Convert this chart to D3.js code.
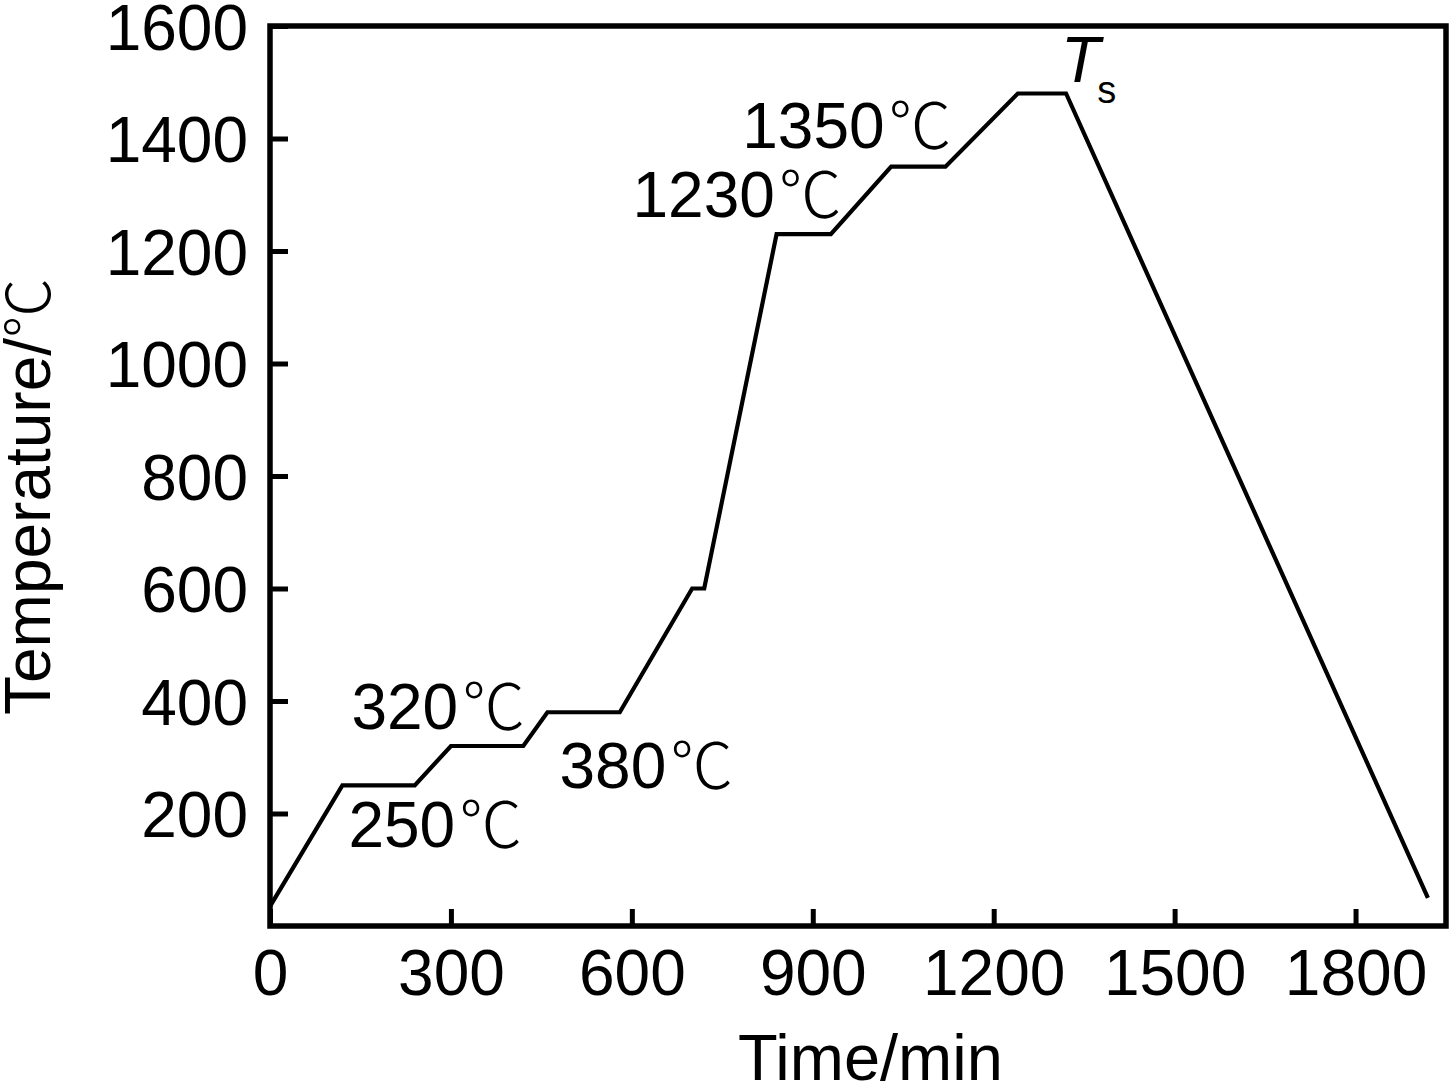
<!DOCTYPE html>
<html><head><meta charset="utf-8">
<script src="https://cdn.jsdelivr.net/npm/d3@7"></script>
<style>
html,body{margin:0;padding:0;background:#fff;}
svg{display:block;}
text{font-family:"Liberation Sans",Arial,sans-serif;fill:#000;}
.deg{font-family:"Noto Sans CJK SC","DejaVu Sans",sans-serif;font-weight:300;}
</style>
</head><body>
<script>
// Data
const timeMin = [0, 120, 240, 300, 420, 460, 580, 700, 720, 840, 930, 1030, 1120, 1240, 1320, 1920];
const tempC   = [35, 250, 250, 320, 320, 380, 380, 600, 600, 1230, 1230, 1350, 1350, 1480, 1480, 50];
const xTicks = [0, 300, 600, 900, 1200, 1500, 1800];
const yTicks = [200, 400, 600, 800, 1000, 1200, 1400, 1600];
const labelTexts = ["250", "320", "380", "1230", "1350"];
const labelTime  = [130, 135, 480, 601, 783];   // anchor time (start of label)
const labelTemp  = [140, 350, 245, 1260, 1383]; // anchor temperature (baseline)

const W = 1450, H = 1083;
const svg = d3.select("body").append("svg").attr("width", W).attr("height", H);

const x = d3.scaleLinear().domain([0, 1950]).range([270, 1446]);
const y = d3.scaleLinear().domain([0, 1600]).range([926, 26]);

// Axes
const xAxis = d3.axisBottom(x).tickValues(xTicks).tickSize(-17).tickPadding(24).tickFormat(d3.format("d"));
const yAxis = d3.axisLeft(y).tickValues(yTicks).tickSize(-18).tickPadding(22).tickFormat(d3.format("d"));

const gx = svg.append("g").attr("transform", `translate(0,${y(0)})`).call(xAxis);
const gy = svg.append("g").attr("transform", `translate(${x(0)},0)`).call(yAxis);
[gx, gy].forEach(g => {
  g.select(".domain").remove();
  g.selectAll(".tick line").attr("stroke", "#000").attr("stroke-width", 5);
  g.selectAll(".tick text").attr("font-size", 64).attr("fill", "#000")
    .style("font-family", '"Liberation Sans",Arial,sans-serif');
});
gy.selectAll(".tick text").attr("dy", "0.36em");

// Frame
svg.append("rect")
  .attr("x", x(0)).attr("y", y(1600))
  .attr("width", x(1950) - x(0)).attr("height", y(0) - y(1600))
  .attr("fill", "none").attr("stroke", "#000").attr("stroke-width", 5.5);

// Line
const pts = timeMin.map((t, i) => [t, tempC[i]]);
svg.append("path")
  .datum(pts)
  .attr("fill", "none").attr("stroke", "#000").attr("stroke-width", 4.2)
  .attr("stroke-linejoin", "miter")
  .attr("d", d3.line().x(d => x(d[0])).y(d => y(d[1])));

// Annotations
labelTexts.forEach((s, i) => {
  const t = svg.append("text")
    .attr("x", x(labelTime[i])).attr("y", y(labelTemp[i]))
    .attr("font-size", 64);
  t.append("tspan").text(s);
  t.append("tspan").attr("class", "deg").attr("font-size", 63).attr("dx", 4).text("℃");
});

// Ts
const ts = svg.append("text").attr("x", x(1320) - 5).attr("y", y(1500)).attr("font-size", 64);
ts.append("tspan").attr("font-style", "italic").text("T");
ts.append("tspan").attr("font-size", 38).attr("dx", -3).attr("dy", 21).text("s");

// Axis titles
svg.append("text").attr("x", 738).attr("y", 1080).attr("font-size", 65).text("Time/min");
const yl = svg.append("text").attr("transform", "translate(50,715) rotate(-90)").attr("font-size", 64);
yl.append("tspan").text("Temperature/");
yl.append("tspan").attr("class", "deg").attr("font-size", 60).text("℃");
</script>
</body></html>
